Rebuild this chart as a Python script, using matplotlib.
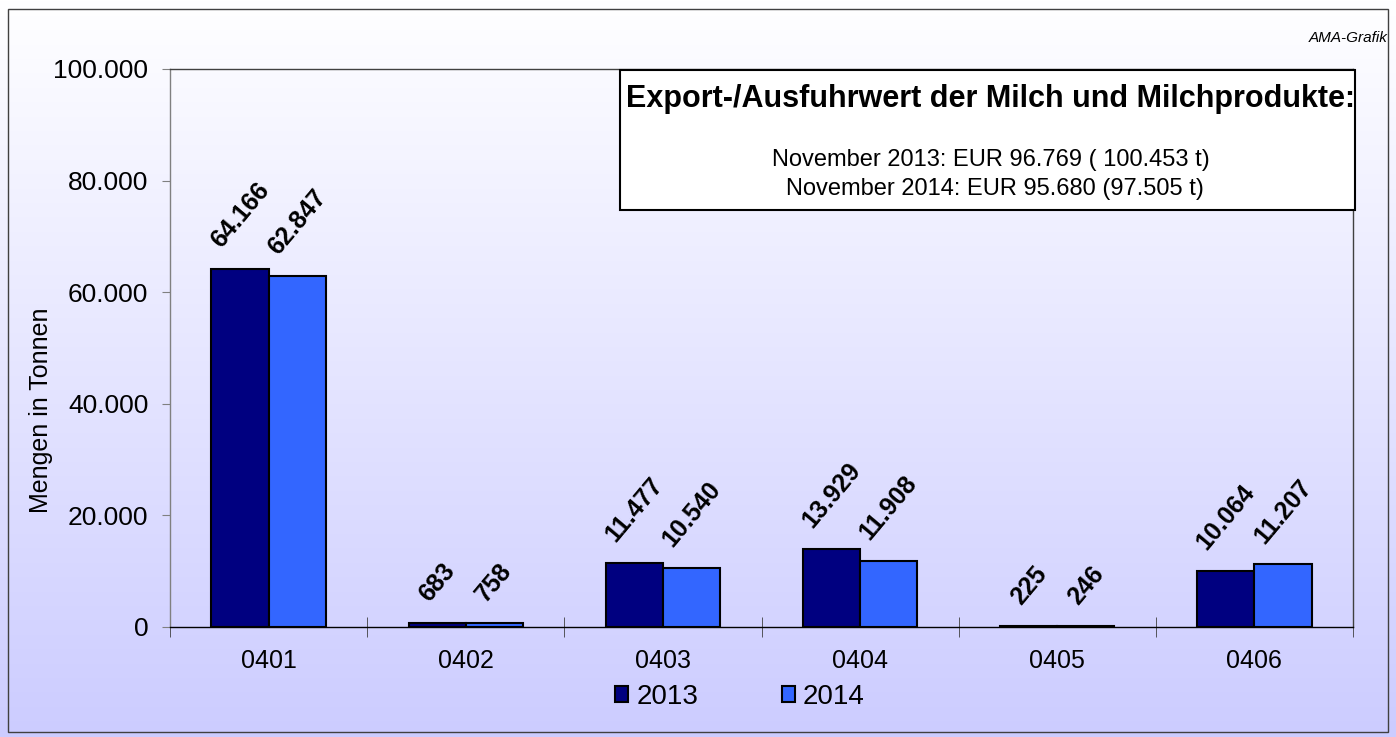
import numpy as np
import matplotlib
matplotlib.use("Agg")
import matplotlib.pyplot as plt
from matplotlib.patches import Rectangle

categories = ["0401", "0402", "0403", "0404", "0405", "0406"]
values_2013 = [64166, 683, 11477, 13929, 225, 10064]
values_2014 = [62847, 758, 10540, 11908, 246, 11207]
series_names = ["2013", "2014"]
yticks = [0, 20000, 40000, 60000, 80000, 100000]

def de_fmt(v):
    return f"{v:,.0f}".replace(",", ".")

plt.rcParams['font.family'] = ['Liberation Sans', 'DejaVu Sans']

W, H = 1396, 737
fig = plt.figure(figsize=(W / 100, H / 100), dpi=100)

# gradient background
bg = fig.add_axes([0, 0, 1, 1], zorder=-10)
grad = np.linspace(0, 1, 256).reshape(-1, 1)
top = np.array([1.0, 1.0, 1.0])
bot = np.array([204, 204, 255]) / 255
img = top[None, None, :] * (1 - grad[..., None]) + bot[None, None, :] * grad[..., None]
bg.imshow(img, aspect='auto', extent=[0, 1, 0, 1])
bg.set_xlim(0, 1); bg.set_ylim(0, 1)
bg.axis('off')
bg.add_patch(Rectangle((8 / W, 5 / H), (1388 - 8) / W, (732 - 9) / H,
                       fill=False, edgecolor='#404040', lw=1.0, transform=bg.transAxes))

ax = fig.add_axes([170 / W, (737 - 627) / H, (1353 - 170) / W, (627 - 69) / H])
ax.set_facecolor('none')

x = np.arange(len(categories))
bw = 0.29
b1 = ax.bar(x - bw / 2, values_2013, bw, color='#000080', edgecolor='black', lw=1.5, label=series_names[0])
b2 = ax.bar(x + bw / 2, values_2014, bw, color='#3366FF', edgecolor='black', lw=1.5, label=series_names[1])

for bars, vals in ((b1, values_2013), (b2, values_2014)):
    for r, v in zip(bars, vals):
        ax.annotate(de_fmt(v), (r.get_x() + r.get_width() / 2, r.get_height()),
                    xytext=(0, 12), textcoords='offset points', rotation=50,
                    ha='center', va='bottom', fontsize=18, fontweight='bold')

ax.set_xlim(-0.5, len(categories) - 0.5)
ax.set_ylim(0, 100000)
ax.set_yticks(yticks)
ax.set_yticklabels([de_fmt(v) for v in yticks], fontsize=19)
ax.set_xticks(x)
ax.set_xticklabels(categories, fontsize=18)
ax.tick_params(axis='x', which='major', length=0, pad=16)
ax.set_xticks(np.arange(-0.5, len(categories), 1), minor=True)
ax.tick_params(axis='x', which='minor', direction='inout', length=14, color='#404040')
ax.tick_params(axis='y', length=6, color='#808080', pad=9.5)
ax.set_ylabel("Mengen in Tonnen", fontsize=18)
ax.yaxis.set_label_coords((53 - 170) / 1183, (627 - 410) / 558)

ax.spines['left'].set_color('#808080')
ax.spines['bottom'].set_color('black')
ax.spines['top'].set_color('#404040')
ax.spines['right'].set_color('#404040')
for s in ax.spines.values():
    s.set_linewidth(1.0)

leg = ax.legend(loc='center', bbox_to_anchor=((740 - 170) / 1183, -(697 - 627) / 558),
                ncol=2, frameon=False, fontsize=20, handlelength=0.47, handleheight=0.47,
                handletextpad=0.3, columnspacing=3.0)

# info box
bx0 = (620 - 170) / 1183
by0 = (627 - 210) / 558
ax.add_patch(Rectangle((bx0, by0), 1.0015 - bx0, (627 - 70) / 558 - by0, transform=ax.transAxes,
                       facecolor='white', edgecolor='black', lw=1.5, clip_on=False, zorder=5))
ax.text((990 - 170) / 1183, (627 - 99) / 558, "Export-/Ausfuhrwert der Milch und Milchprodukte:", transform=ax.transAxes,
        ha='center', va='center', fontsize=22, fontweight='bold', zorder=6)
ax.text((991 - 170) / 1183, (627 - 160) / 558, "November 2013: EUR 96.769 ( 100.453 t)", transform=ax.transAxes,
        ha='center', va='center', fontsize=17, zorder=6)
ax.text((995 - 170) / 1183, (627 - 189) / 558, "November 2014: EUR 95.680 (97.505 t)", transform=ax.transAxes,
        ha='center', va='center', fontsize=17, zorder=6)

fig.text(1388 / W, 1 - 38 / H, "AMA-Grafik", ha='right', va='center', fontsize=11, style='italic')

fig.savefig("out.png", dpi=100)
